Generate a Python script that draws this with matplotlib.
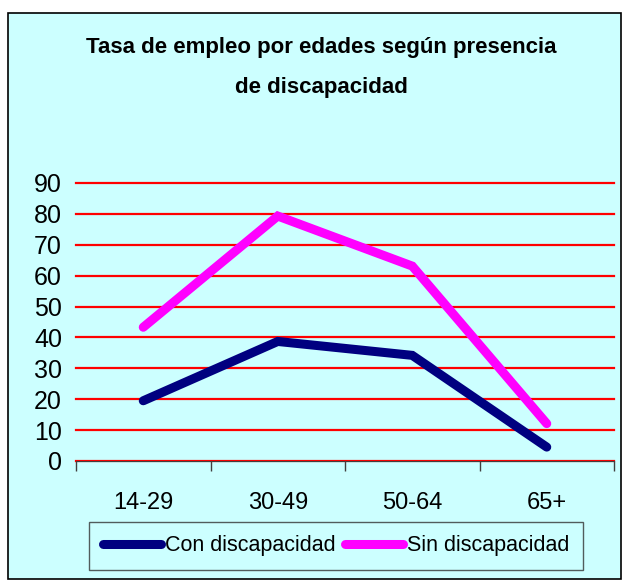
import matplotlib
matplotlib.use('Agg')
import matplotlib.pyplot as plt
from matplotlib.patches import Rectangle

# datos
edades = ['14-29', '30-49', '50-64', '65+']
con_discapacidad = [19.5, 38.7, 34.2, 4.5]
sin_discapacidad = [43.3, 79.3, 63.1, 12.1]
y_ticks = [0, 10, 20, 30, 40, 50, 60, 70, 80, 90]

plt.rcParams['font.family'] = ['Liberation Sans', 'DejaVu Sans']

fondo = '#CCFFFF'
fig = plt.figure(figsize=(6.22, 5.80), dpi=100, facecolor='white')
fig.patches.append(Rectangle((8 / 622, 1 / 580), 613 / 622, 566 / 580, transform=fig.transFigure,
                             facecolor=fondo, edgecolor='black', linewidth=1.2, zorder=-5))

ax = fig.add_axes([76 / 622, 1 - 461 / 580, (614 - 76) / 622, (461 - 183) / 580])
ax.set_facecolor(fondo)
x = range(len(edades))
ax.plot(x, con_discapacidad, color='#000080', linewidth=6.5, solid_capstyle='round',
        solid_joinstyle='miter', label='Con discapacidad', zorder=3)
ax.plot(x, sin_discapacidad, color='#FF00FF', linewidth=6.5, solid_capstyle='round',
        solid_joinstyle='miter', label='Sin discapacidad', zorder=3)

ax.set_xlim(-0.5, len(edades) - 0.5)
ax.set_ylim(0, 90)
ax.set_yticks(y_ticks)
ax.set_xticks(list(x))
ax.set_xticklabels(edades)
ax.set_xticks([i - 0.5 for i in range(len(edades) + 1)], minor=True)
ax.tick_params(axis='x', which='major', length=0, pad=22, labelsize=17)
ax.tick_params(axis='x', which='minor', length=7, color='#404040', width=1)
ax.tick_params(axis='y', length=0, pad=10, labelsize=18)
for s in ['top', 'right', 'left']:
    ax.spines[s].set_visible(False)
ax.spines['bottom'].set_color('#404040')
ax.grid(axis='y', color='#FF0000', linewidth=1.6)
for g in ax.get_ygridlines():
    g.set_clip_on(False)
ax.set_axisbelow(True)

fig.text(321 / 622, 1 - 48 / 580, 'Tasa de empleo por edades según presencia', ha='center', va='center',
         fontsize=16, fontweight='bold')
fig.text(321 / 622, 1 - 87 / 580, 'de discapacidad', ha='center', va='center',
         fontsize=16, fontweight='bold')

leg = fig.legend(loc='center', bbox_to_anchor=(336 / 622, 1 - 546 / 580), ncol=2, fontsize=15.5,
                 frameon=True, fancybox=False, facecolor=fondo, edgecolor='#333333',
                 handlelength=2.7, handletextpad=0.18, columnspacing=0.45, borderpad=0.62,
                 borderaxespad=0)
leg.get_frame().set_linewidth(1)

fig.savefig('out.png', dpi=100, facecolor='white')
